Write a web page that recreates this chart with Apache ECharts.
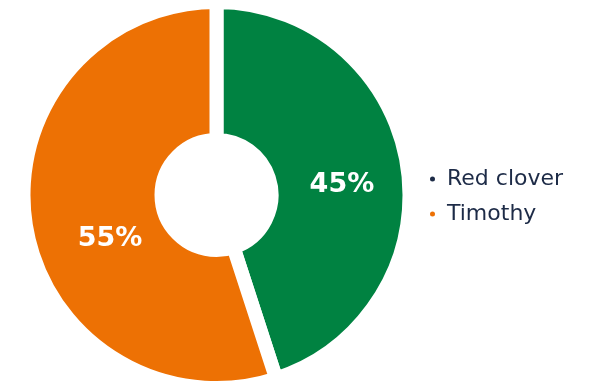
<!DOCTYPE html>
<html>
<head>
<meta charset="utf-8">
<style>
  html, body { margin: 0; padding: 0; background: #ffffff; }
  #chart { width: 604px; height: 383px; }
</style>
<script src="https://cdn.jsdelivr.net/npm/echarts@6/dist/echarts.min.js"></script>
</head>
<body>
<div id="chart"></div>
<script>
// Share of each forage crop
const categories = ['Red clover', 'Timothy'];
const shares = [45, 55];
const sliceColors = ['#008241', '#ed7104'];
const legendColors = ['#1d2b47', '#ed7104'];
const labelOffsets = [[0, 10], [19, 24]];

const chart = echarts.init(document.getElementById('chart'), null, { renderer: 'canvas' });

const option = {
  backgroundColor: '#ffffff',
  animation: false,
  legend: {
    orient: 'vertical',
    left: 428,
    top: 168,
    padding: 0,
    icon: 'circle',
    itemWidth: 7,
    itemHeight: 7,
    itemGap: 13,
    selectedMode: false,
    textStyle: {
      fontFamily: 'DejaVu Sans',
      fontSize: 22,
      color: '#1d2b47',
      padding: [0, 0, 0, 6]
    },
    data: categories.map((name, i) => ({
      name: name,
      itemStyle: { color: legendColors[i] }
    }))
  },
  series: [{
    type: 'pie',
    center: [216.5, 195],
    radius: [55, 193],
    startAngle: 90,
    clockwise: true,
    silent: true,
    itemStyle: {
      borderColor: '#ffffff',
      borderWidth: 14
    },
    label: {
      show: true,
      position: 'inside',
      formatter: '{c}%',
      color: '#ffffff',
      fontFamily: 'DejaVu Sans',
      fontWeight: 'bold',
      fontSize: 27
    },
    labelLine: { show: false },
    data: categories.map((name, i) => ({
      name: name,
      value: shares[i],
      itemStyle: { color: sliceColors[i] },
      label: { offset: labelOffsets[i] }
    }))
  }]
};

chart.setOption(option);
</script>
</body>
</html>
